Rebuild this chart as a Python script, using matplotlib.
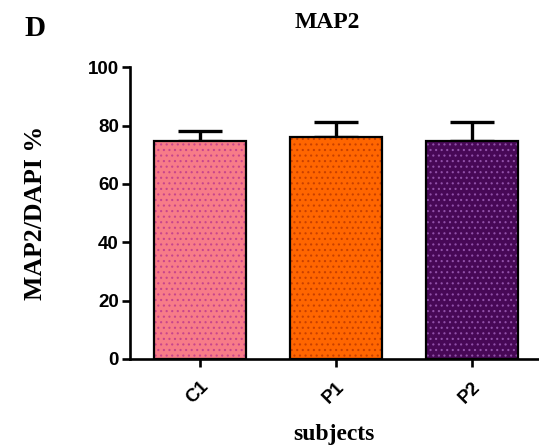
import matplotlib.pyplot as plt
import numpy as np

plt.rcParams["hatch.linewidth"] = 0.8

subjects = ["C1", "P1", "P2"]
means = [74.7, 76.0, 74.7]
errs = [3.3, 5.3, 6.6]
face_colors = ["#F77C88", "#FF6600", "#470856"]
dot_colors = ["#C8458C", "#C84000", "#9050A8"]

fig = plt.figure(figsize=(5.39, 4.48), dpi=100)
ax = fig.add_axes([0.241, 0.199, 0.757, 0.651])

x = np.arange(len(subjects))
width = 0.676

for xi, m, fc, dc in zip(x, means, face_colors, dot_colors):
    ax.bar(xi, m, width=width, color=fc, edgecolor=dc, linewidth=0, hatch="...", zorder=2)
ax.bar(x, means, width=width, fill=False, edgecolor="black", linewidth=1.6, zorder=3)
ax.errorbar(x, means, yerr=[np.zeros(len(errs)), errs], fmt="none", ecolor="black",
            elinewidth=2.4, capsize=16, capthick=2.4, zorder=1)

ax.set_xlim(-0.515, 2.485)
ax.set_ylim(0, 100)
ax.set_yticks([0, 20, 40, 60, 80, 100])
ax.set_xticks(x)
ax.set_xticklabels(subjects, rotation=45, ha="right", rotation_mode="anchor")

for side in ["top", "right"]:
    ax.spines[side].set_visible(False)
for side in ["left", "bottom"]:
    ax.spines[side].set_linewidth(1.9)

ax.tick_params(axis="both", width=1.9, length=6, labelsize=13.5, pad=2)
ax.tick_params(axis="x", pad=8)
for lab in ax.get_xticklabels() + ax.get_yticklabels():
    lab.set_fontfamily("Liberation Sans")
    lab.set_fontweight("bold")

serif = dict(family="Liberation Serif", fontweight="bold", fontsize=17)
ax.set_ylabel("MAP2/DAPI %", **{**serif, "fontsize": 18.5})
ax.yaxis.set_label_coords(-0.203, 0.5)
ax.set_xlabel("subjects", va="center", **serif)
ax.xaxis.set_label_coords(0.5, -0.26)

fig.text(327 / 539, 1 - 23 / 448, "MAP2", ha="center", va="center", **serif)
fig.text(35 / 539, 1 - 28 / 448, "D", ha="center", va="center", **{**serif, "fontsize": 21})

plt.savefig("out.png", dpi=100)
